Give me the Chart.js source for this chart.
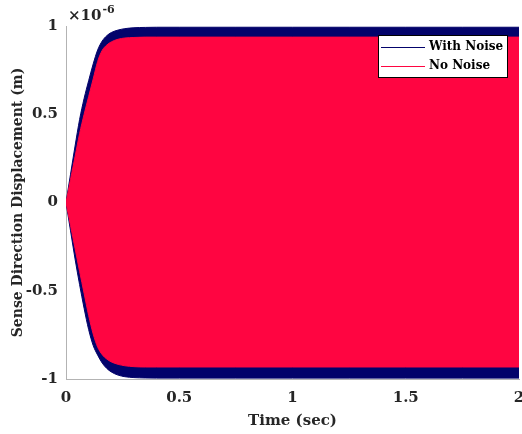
<!DOCTYPE html>
<html>
<head>
<meta charset="utf-8">
<script src="https://cdn.jsdelivr.net/npm/chart.js@4/dist/chart.umd.min.js"></script>
<style>
  html, body { margin: 0; padding: 0; background: #ffffff; }
  #wrap { position: relative; width: 522px; height: 434px; }
</style>
</head>
<body>
<div id="wrap"><canvas id="c" width="522" height="434"></canvas></div>
<script>
// Time samples (s) of the envelope
const timeSec = [0, 0.02, 0.04, 0.06, 0.08, 0.10, 0.12, 0.14, 0.16, 0.18, 0.20, 0.23, 0.26, 0.30, 0.35, 0.40, 0.50, 0.75, 1.00, 1.25, 1.50, 1.75, 2.00];
// Displacement envelope, in units of 1e-6 m
const withNoiseUpper = [0, 0.16, 0.32, 0.47, 0.59, 0.69, 0.785, 0.865, 0.915, 0.945, 0.963, 0.977, 0.985, 0.990, 0.992, 0.993, 0.993, 0.993, 0.993, 0.993, 0.993, 0.993, 0.993];
const withNoiseLower = [0, -0.16, -0.32, -0.465, -0.60, -0.72, -0.81, -0.865, -0.91, -0.94, -0.96, -0.978, -0.987, -0.992, -0.994, -0.995, -0.995, -0.995, -0.995, -0.995, -0.995, -0.995, -0.995];
const noNoiseUpper = [0, 0.13, 0.26, 0.39, 0.50, 0.60, 0.70, 0.80, 0.862, 0.892, 0.91, 0.925, 0.932, 0.935, 0.937, 0.937, 0.937, 0.937, 0.937, 0.937, 0.937, 0.937, 0.937];
const noNoiseLower = [0, -0.13, -0.26, -0.39, -0.515, -0.64, -0.745, -0.82, -0.862, -0.887, -0.903, -0.917, -0.925, -0.93, -0.932, -0.932, -0.932, -0.932, -0.932, -0.932, -0.932, -0.932, -0.932];
const seriesLabels = ['With Noise', 'No Noise'];
const xTickLabels = ['0', '0.5', '1', '1.5', '2'];
const yTickLabels = ['-1', '-0.5', '0', '0.5', '1'];
const exponentLabel = '-6';

const NAVY = '#03036b';
const RED = '#ff0541';
const FONT = '"DejaVu Serif", "Liberation Serif", serif';
const TEXT = '#262626';

function pts(arr) { return timeSec.map((t, i) => ({ x: t, y: arr[i] })); }

const common = { pointRadius: 0, borderWidth: 1, cubicInterpolationMode: 'monotone' };

const data = {
  datasets: [
    Object.assign({ label: seriesLabels[1], data: pts(noNoiseUpper), borderColor: RED, backgroundColor: RED, fill: '+1' }, common),
    Object.assign({ label: seriesLabels[1] + ' (lower)', data: pts(noNoiseLower), borderColor: RED, backgroundColor: RED, fill: false }, common),
    Object.assign({ label: seriesLabels[0], data: pts(withNoiseUpper), borderColor: NAVY, backgroundColor: NAVY, fill: '+1' }, common),
    Object.assign({ label: seriesLabels[0] + ' (lower)', data: pts(withNoiseLower), borderColor: NAVY, backgroundColor: NAVY, fill: false }, common)
  ]
};

const decorPlugin = {
  id: 'decor',
  afterDraw(chart) {
    const ctx = chart.ctx;
    const area = chart.chartArea;
    ctx.save();
    // exponent label
    ctx.fillStyle = TEXT;
    ctx.textBaseline = 'alphabetic';
    ctx.textAlign = 'left';
    ctx.font = 'bold 15px ' + FONT;
    ctx.fillText('\u00d710', area.left + 2, 20);
    const w = ctx.measureText('\u00d710').width;
    ctx.font = 'bold 11px ' + FONT;
    ctx.fillText(exponentLabel, area.left + 2 + w + 1, 13);
    // legend
    const bx = 378, by = 35, bw = 129, bh = 42;
    ctx.fillStyle = '#ffffff';
    ctx.fillRect(bx, by, bw, bh);
    ctx.strokeStyle = '#000000';
    ctx.lineWidth = 1;
    ctx.strokeRect(bx + 0.5, by + 0.5, bw, bh);
    const entries = [
      { label: chart.data.datasets[2].label, color: NAVY, y: 47 },
      { label: chart.data.datasets[0].label, color: RED, y: 66 }
    ];
    ctx.font = 'bold 12px ' + FONT;
    ctx.textBaseline = 'middle';
    entries.forEach(e => {
      ctx.strokeStyle = e.color;
      ctx.beginPath();
      ctx.moveTo(381, e.y + 0.5);
      ctx.lineTo(425, e.y + 0.5);
      ctx.stroke();
      ctx.fillStyle = '#000000';
      ctx.fillText(e.label, 429, e.y);
    });
    ctx.restore();
  }
};

new Chart(document.getElementById('c'), {
  type: 'line',
  data: data,
  plugins: [decorPlugin],
  options: {
    responsive: false,
    animation: false,
    layout: { padding: { top: 26, right: 3, left: 0, bottom: 0 } },
    plugins: { legend: { display: false }, tooltip: { enabled: false } },
    scales: {
      x: {
        type: 'linear', min: 0, max: 2,
        afterBuildTicks(s) { s.ticks = xTickLabels.map(v => ({ value: parseFloat(v) })); },
        afterFit(s) { s.height = 55; s.paddingRight = 0; s.paddingLeft = 0; },
        ticks: { color: TEXT, font: { family: FONT, size: 15, weight: 'bold' }, padding: 10, maxRotation: 0,
          callback: (v, i) => xTickLabels[i] },
        grid: { display: false, drawTicks: false },
        border: { display: true, color: '#b3b3b3', width: 1 },
        title: { display: true, text: 'Time (sec)', color: TEXT, font: { family: FONT, size: 15, weight: 'bold' }, padding: { top: 0 } }
      },
      y: {
        type: 'linear', min: -1, max: 1,
        afterBuildTicks(s) { s.ticks = yTickLabels.map(v => ({ value: parseFloat(v) })); },
        afterFit(s) { s.width = 66; s.paddingTop = 0; s.paddingBottom = 0; },
        ticks: { color: TEXT, font: { family: FONT, size: 15, weight: 'bold' }, padding: 8,
          callback: (v, i) => yTickLabels[i] },
        grid: { display: false, drawTicks: false },
        border: { display: true, color: '#b3b3b3', width: 1 },
        title: { display: true, text: 'Sense Direction Displacement (m)', color: TEXT, font: { family: FONT, size: 14, weight: 'bold' }, padding: { top: 10, bottom: 0 } }
      }
    }
  }
});
</script>
</body>
</html>
